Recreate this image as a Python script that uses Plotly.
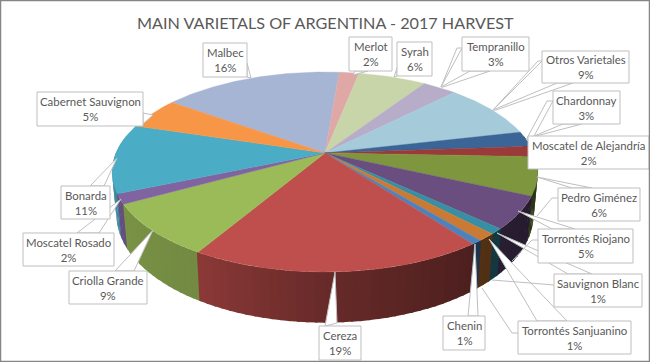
import numpy as np
import plotly.graph_objects as go

title = "MAIN VARIETALS OF ARGENTINA - 2017 HARVEST"
varietals = ["Malbec", "Merlot", "Syrah", "Tempranillo", "Otros Varietales", "Chardonnay",
             "Moscatel de Alejandría", "Pedro Giménez", "Torrontés Riojano", "Sauvignon Blanc",
             "Torrontés Sanjuanino", "Chenin", "Cereza", "Criolla Grande", "Moscatel Rosado",
             "Bonarda", "Cabernet Sauvignon"]
shares = [16.4, 1.8, 6.2, 3.1, 9.0, 2.5, 1.7, 6.2, 5.2, 0.9, 1.2, 0.7, 18.7, 8.5, 1.6, 11.2, 5.1]
share_labels = ["16%", "2%", "6%", "3%", "9%", "3%", "2%", "6%", "5%", "1%", "1%", "1%",
                "19%", "9%", "2%", "11%", "5%"]
colors = ["#A7B5D5", "#DFA8A6", "#C7D5A8", "#B7ADC9", "#A5CBDB", "#3B6596", "#9A3B39", "#7E973F",
          "#6A4E80", "#388EA2", "#CB7A33", "#4F81BD", "#BE4F4C", "#9BBB59", "#8064A2", "#4BACC6",
          "#F79646"]

# --- projection of the tilted pie into pixel space ---
CX, CY, A, B, K = 325.0, 153.0, 209.0, 96.4, 0.19
DEPTH, BOTTOM_SCALE = 41.0, 0.98
START = -54.4


def rim(theta, bottom=False):
    t = np.radians(theta)
    X, Y = np.sin(t), -np.cos(t)
    w = 1 - K * Y
    sx, sy = A * X / w, B * Y / w
    if bottom:
        return CX + sx * BOTTOM_SCALE, CY + sy + DEPTH / w
    return CX + sx, CY + sy


def wall_shade(theta):
    return np.interp(theta, [100, 145, 177, 211, 250, 280], [0.33, 0.41, 0.53, 0.74, 0.80, 0.82])


def shaded(hexcol, f):
    r, g, b = (int(hexcol[i:i + 2], 16) for i in (1, 3, 5))
    return f"rgb({int(r * f)},{int(g * f)},{int(b * f)})"


total = sum(shares)
edges = START + np.cumsum([0] + shares) * 360.0 / total
fig = go.Figure()

# walls, from back to front
strips = []
for i, col in enumerate(colors):
    a0, a1 = edges[i], edges[i + 1]
    for base in (0, 360):
        lo, hi = max(a0 + base, 80), min(a1 + base, 280)
        if hi <= lo:
            continue
        n = max(1, int((hi - lo) / 2))
        bounds = np.linspace(lo, hi, n + 1)
        for s0, s1 in zip(bounds[:-1], bounds[1:]):
            strips.append((s0, s1, col))
strips.sort(key=lambda s: abs((s[0] + s[1]) / 2 - 180), reverse=True)
for s0, s1, col in strips:
    th = np.linspace(s0 - 0.3, s1 + 0.3, 6)
    xt, yt = rim(th)
    xb, yb = rim(th[::-1], bottom=True)
    c = shaded(col, wall_shade((s0 + s1) / 2))
    fig.add_trace(go.Scatter(x=np.r_[xt, xb, xt[0]], y=np.r_[yt, yb, yt[0]], mode="lines",
                             fill="toself", fillcolor=c, line=dict(color=c, width=0),
                             hoverinfo="skip", showlegend=False))

# top faces
for i, col in enumerate(colors):
    th = np.linspace(edges[i], edges[i + 1], max(3, int(shares[i] * 6)))
    x, y = rim(th)
    fig.add_trace(go.Scatter(x=np.r_[CX, x, CX], y=np.r_[CY, y, CY], mode="lines",
                             fill="toself", fillcolor=col, line=dict(color=col, width=0.4),
                             hoverinfo="skip", showlegend=False, name=varietals[i]))

# --- label boxes (x0, y0, x1, y1) and callout outlines, in pixels ---
boxes = {
    "Malbec": (203, 43, 247, 77),
    "Merlot": (349, 37, 392, 71),
    "Syrah": (397, 42, 432, 76),
    "Tempranillo": (462, 37, 529, 71),
    "Otros Varietales": (542, 51, 629, 83),
    "Chardonnay": (553, 91, 620, 124),
    "Moscatel de Alejandría": (528, 136, 649, 169),
    "Pedro Giménez": (558, 188, 640, 221),
    "Torrontés Riojano": (538, 229, 633, 263),
    "Sauvignon Blanc": (554, 274, 642, 307),
    "Torrontés Sanjuanino": (518, 321, 631, 354),
    "Chenin": (443, 316, 485, 350),
    "Cereza": (319, 326, 361, 360),
    "Criolla Grande": (69, 271, 147, 304),
    "Moscatel Rosado": (23, 233, 114, 266),
    "Bonarda": (61, 186, 110, 219),
    "Cabernet Sauvignon": (37, 92, 143, 126),
}
wedges = [
    [(247, 63), (251, 78), (247, 77)],
    [(143, 113), (153, 115), (143, 124)],
    [(355, 71), (353, 75), (368, 71)],
    [(397, 68), (394, 77), (397, 76)],
    [(462, 48), (457, 48), (441, 87), (443, 87), (490, 71), (470, 71), (441, 87)],
    [(542, 61), (538, 61), (493, 110), (496, 110), (573, 83), (557, 83), (493, 110)],
    [(553, 101), (547, 101), (526, 140), (536, 136), (582, 124), (563, 124), (534, 136)],
    [(537, 177), (592, 188), (572, 188)],
    [(518, 211), (575, 229), (552, 229)],
    [(497, 233), (592, 274), (568, 274)],
    [(489, 239), (567, 321), (537, 321)],
    [(475, 244), (478, 316), (468, 316)],
    [(335, 272), (337, 323), (325, 326)],
    [(153, 230), (134, 271), (115, 271)],
    [(121, 199), (99, 233), (77, 233)],
    [(117, 158), (104, 186), (90, 186)],
]
elbows = [
    [(558, 198), (552, 198), (537, 216)],
    [(538, 240), (532, 240), (512, 261)],
    [(554, 285), (530, 283), (492, 280)],
    [(518, 333), (512, 333), (482, 288)],
]

shapes = []
for w in wedges:
    path = "M" + " L".join(f"{x},{y}" for x, y in w) + " Z"
    shapes.append(dict(type="path", path=path, xref="x", yref="y", fillcolor="white",
                       line=dict(color="#BFBFBF", width=1)))
for w in elbows:
    path = "M" + " L".join(f"{x},{y}" for x, y in w)
    shapes.append(dict(type="path", path=path, xref="x", yref="y",
                       line=dict(color="#BFBFBF", width=1)))
annotations = []
for name, pct in zip(varietals, share_labels):
    x0, y0, x1, y1 = boxes[name]
    shapes.append(dict(type="rect", x0=x0, y0=y0, x1=x1, y1=y1, xref="x", yref="y",
                       fillcolor="white", line=dict(color="#BFBFBF", width=1)))
    annotations.append(dict(x=(x0 + x1) / 2, y=(y0 + y1) / 2, xref="x", yref="y",
                            text=f"{name}<br>{pct}", showarrow=False,
                            font=dict(family="Lato", size=11.4, color="#595959")))
shapes.append(dict(type="rect", x0=0.5, y0=0.5, x1=649.5, y1=361.5, xref="x", yref="y",
                   line=dict(color="#868686", width=1.5)))
annotations.append(dict(x=325, y=22, xref="x", yref="y", text=title, showarrow=False,
                        font=dict(family="Lato", size=16.2, color="#595959")))

fig.update_layout(
    width=650, height=362, margin=dict(l=0, r=0, t=0, b=0),
    paper_bgcolor="white", plot_bgcolor="white", showlegend=False,
    xaxis=dict(range=[0, 650], visible=False, fixedrange=True),
    yaxis=dict(range=[362, 0], visible=False, fixedrange=True),
    shapes=shapes, annotations=annotations,
)
fig.write_html("out.html", config=dict(displayModeBar=False),
               post_script="document.body.style.margin='0';document.body.style.overflow='hidden';")
